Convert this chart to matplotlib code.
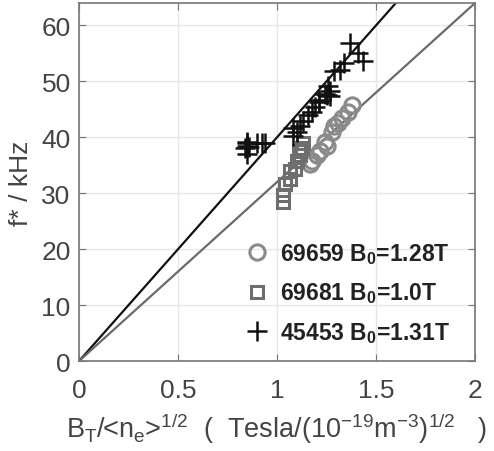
import matplotlib.pyplot as plt
import numpy as np

plt.rcParams['font.family'] = ['Liberation Sans', 'DejaVu Sans']
plt.rcParams['mathtext.default'] = 'regular'

# shot 69659, B0 = 1.28 T (circles)
x_69659 = [1.167, 1.177, 1.20, 1.217, 1.24, 1.25, 1.277, 1.29, 1.31, 1.33, 1.36, 1.38]
f_69659 = [35.3, 35.8, 36.8, 37.6, 39.2, 38.4, 41.0, 42.1, 42.6, 43.4, 44.6, 45.7]

# shot 69681, B0 = 1.0 T (squares)
x_69681 = [1.03, 1.03, 1.04, 1.066, 1.066, 1.09, 1.10, 1.116, 1.126, 1.13, 1.11]
f_69681 = [29.6, 28.5, 31.7, 32.6, 33.9, 34.4, 35.8, 36.8, 38.0, 38.9, 37.5]

# shot 45453, B0 = 1.31 T (crosses)
x_45453 = [0.84, 0.85, 0.85, 0.85, 0.85, 0.86, 0.90, 0.925, 0.94,
           1.08, 1.08, 1.10, 1.116, 1.13, 1.157, 1.177, 1.19, 1.21, 1.21,
           1.24, 1.25, 1.26, 1.27, 1.27, 1.29, 1.32, 1.34, 1.37, 1.41, 1.435]
f_45453 = [38.0, 39.2, 38.9, 38.5, 37.0, 38.3, 38.9, 38.9, 38.9,
           40.3, 41.6, 41.0, 42.1, 43.0, 44.0, 44.6, 45.5, 46.4, 46.6,
           47.8, 47.5, 49.1, 48.2, 47.3, 51.8, 52.0, 53.2, 56.8, 55.0, 53.6]

# reference lines f = k * x
slope_black = 40
slope_gray = 32
line_x = [0, 2]

fig = plt.figure(figsize=(4.94, 4.52), dpi=100)
ax = fig.add_axes([0.160, 0.199, 0.8015, 0.792])

ax.plot(line_x, [slope_black * v for v in line_x], color='#111111', lw=1.6, zorder=2)
ax.plot(line_x, [slope_gray * v for v in line_x], color='#6a6a6a', lw=1.6, zorder=2)

ax.plot(x_69659, f_69659, 'o', ls='none', ms=11, mfc='none', mec='#8a8a8a', mew=2.2,
        label=r'69659 B$_0$=1.28T', zorder=3)
ax.plot(x_69681, f_69681, 's', ls='none', ms=9, mfc='none', mec='#6e6e6e', mew=2.2,
        label=r'69681 B$_0$=1.0T', zorder=3)
ax.plot(x_45453, f_45453, '+', ls='none', ms=14, mec='#111111', mew=1.8,
        label=r'45453 B$_0$=1.31T', zorder=4)

ax.set_xlim(0, 2)
ax.set_ylim(0, 64)
ax.set_xticks([0, 0.5, 1, 1.5, 2])
ax.set_xticklabels(['0', '0.5', '1', '1.5', '2'])
ax.set_yticks(np.arange(0, 61, 10))
ax.grid(True, color='#e6e6e6', lw=1)
ax.set_axisbelow(True)
ax.tick_params(direction='in', top=True, right=True, length=5, color='#777777',
               labelsize=19, labelcolor='#444444')
ax.tick_params(axis='x', pad=12)
ax.tick_params(axis='y', pad=6)
for s in ax.spines.values():
    s.set_color('#777777')
    s.set_linewidth(1.2)

ax.set_ylabel('f* / kHz', fontsize=19, color='#444444', labelpad=6)
ax.set_xlabel(r'B$_T$/<n$_e$>$^{1/2}$  (  Tesla/(10$^{-19}$m$^{-3}$)$^{1/2}$   )',
              fontsize=19.5, color='#444444', labelpad=6)

leg = ax.legend(loc='center left', bbox_to_anchor=(0.427, 0.19), frameon=False,
                prop={'size': 16.5, 'weight': 'bold'}, handlelength=0.8,
                handletextpad=0.6, labelspacing=0.62, borderaxespad=0, borderpad=0)
for t in leg.get_texts():
    t.set_color('#222222')

fig.savefig('out.png', dpi=100)
